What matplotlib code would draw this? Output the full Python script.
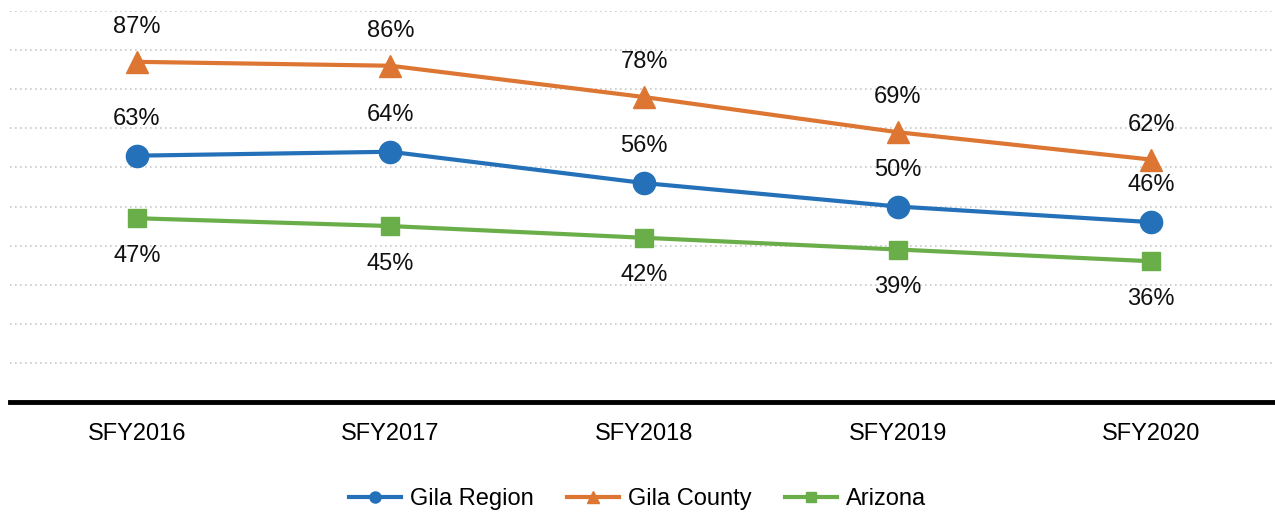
import matplotlib
matplotlib.use("Agg")
import matplotlib.pyplot as plt
from matplotlib.lines import Line2D

categories = ["SFY2016", "SFY2017", "SFY2018", "SFY2019", "SFY2020"]
gila_region = [63, 64, 56, 50, 46]
gila_county = [87, 86, 78, 69, 62]
arizona = [47, 45, 42, 39, 36]

plt.rcParams['font.family'] = ['Liberation Sans', 'DejaVu Sans']

c_blue = '#2471B9'
c_orange = '#DC7632'
c_green = '#6AAE4A'

fig = plt.figure(figsize=(12.75, 5.12), dpi=100)
ax = fig.add_axes([10/1275, 1 - 402/512, 1268/1275, (402 - 11)/512])

x = list(range(len(categories)))
ax.plot(x, gila_region, color=c_blue, lw=3, marker='o', ms=16, zorder=3, clip_on=False)
ax.plot(x, gila_county, color=c_orange, lw=3, marker='^', ms=16, zorder=3, clip_on=False)
ax.plot(x, arizona, color=c_green, lw=3, marker='s', ms=13, zorder=3, clip_on=False)

fs = 17
for xi, v in zip(x, gila_region):
    ax.annotate(f"{v}%", (xi, v), xytext=(0, 26.5), textcoords='offset points',
                ha='center', va='center', fontsize=fs, color='#111111')
for xi, v in zip(x, gila_county):
    ax.annotate(f"{v}%", (xi, v), xytext=(0, 25), textcoords='offset points',
                ha='center', va='center', fontsize=fs, color='#111111')
for xi, v in zip(x, arizona):
    ax.annotate(f"{v}%", (xi, v), xytext=(0, -27), textcoords='offset points',
                ha='center', va='center', fontsize=fs, color='#111111')

ax.set_xlim(-0.5, len(categories) - 0.5)
ax.set_ylim(0, 100)
ax.set_yticks(range(10, 101, 10))
ax.yaxis.grid(True, color='#C8C8C8', linestyle=(0, (1, 2)), lw=1.2)
ax.tick_params(axis='y', left=False, labelleft=False)
ax.set_xticks(x)
ax.set_xticklabels(categories, fontsize=fs)
ax.tick_params(axis='x', length=0, pad=15)
for s in ['top', 'right', 'left']:
    ax.spines[s].set_visible(False)
ax.spines['bottom'].set_linewidth(3.5)
ax.spines['bottom'].set_color('black')
ax.set_axisbelow(True)

handles = [
    Line2D([], [], color=c_blue, lw=3, marker='o', ms=8),
    Line2D([], [], color=c_orange, lw=3, marker='^', ms=8),
    Line2D([], [], color=c_green, lw=3, marker='s', ms=7),
]
fig.legend(handles, ["Gila Region", "Gila County", "Arizona"], loc='center',
           bbox_to_anchor=(0.5, 1 - 499/512), ncol=3, frameon=False,
           fontsize=fs, handlelength=2.2, columnspacing=1.4, handletextpad=0.4)

fig.savefig("out.png", dpi=100)
